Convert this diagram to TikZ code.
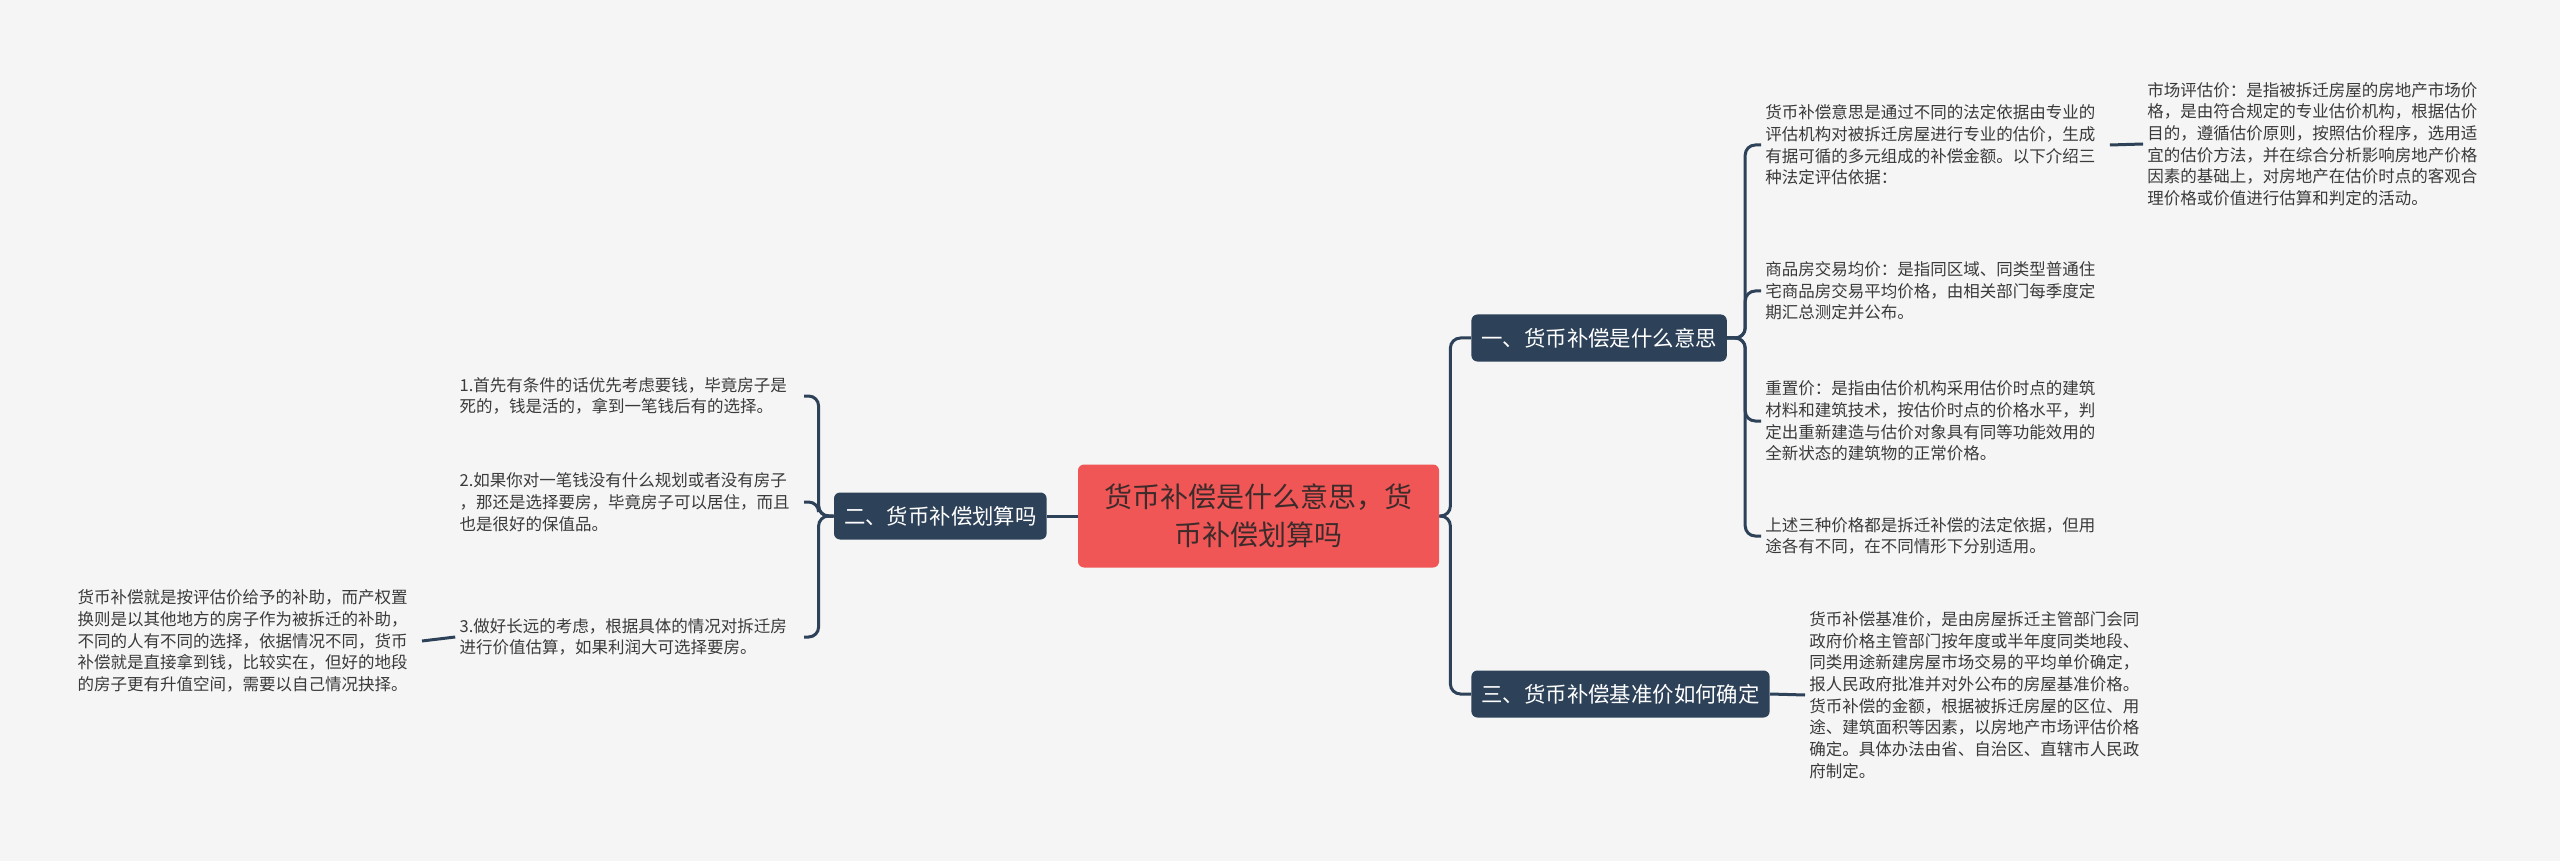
\documentclass[tikz,border=0pt]{standalone}
\usepackage{fontspec}
\setmainfont{Noto Sans CJK SC}

\definecolor{bg}{HTML}{F5F5F5}
\definecolor{navy}{HTML}{2D4159}
\definecolor{rootred}{HTML}{F05656}
\definecolor{roottext}{HTML}{3D2B2B}
\definecolor{txt}{HTML}{3A3A3A}

\begin{document}
\begin{tikzpicture}[
  x=0.5pt, y=-0.5pt,
  root/.style={fill=rootred,text=roottext,rounded corners=3pt,minimum width=180.5pt,minimum height=51.5pt,align=center,font=\fontsize{14}{19}\selectfont},
  topic/.style={fill=navy,text=white,rounded corners=3pt,minimum height=23.5pt,inner xsep=5pt,font=\fontsize{10.7}{13}\selectfont},
  detail/.style={text=txt,text width=170pt,align=left,inner sep=2pt,font=\fontsize{8.25}{10.85}\selectfont},
  link/.style={draw=navy,line width=1.5pt,rounded corners=5pt}
]
\fill[bg] (0,0) rectangle (2560,861);
\useasboundingbox (0,0) rectangle (2560,861);

\node[root] (root) at (1258.5,516) {货币补偿是什么意思，货\\币补偿划算吗};

\node[topic,anchor=west] (b1) at (1471,338) {一、货币补偿是什么意思};
\node[topic,anchor=west] (b3) at (1471,694) {三、货币补偿基准价如何确定};
\node[topic,anchor=east] (b2) at (1047,516) {二、货币补偿划算吗};

\node[detail,anchor=west] (c1) at (1761,145) {货币补偿意思是通过不同的法定依据由专业的\\评估机构对被拆迁房屋进行专业的估价，生成\\有据可循的多元组成的补偿金额。以下介绍三\\种法定评估依据：};
\node[detail,anchor=west] (c2) at (1761,291) {商品房交易均价：是指同区域、同类型普通住\\宅商品房交易平均价格，由相关部门每季度定\\期汇总测定并公布。};
\node[detail,anchor=west] (c3) at (1761,421) {重置价：是指由估价机构采用估价时点的建筑\\材料和建筑技术，按估价时点的价格水平，判\\定出重新建造与估价对象具有同等功能效用的\\全新状态的建筑物的正常价格。};
\node[detail,anchor=west] (c4) at (1761,536) {上述三种价格都是拆迁补偿的法定依据，但用\\途各有不同，在不同情形下分别适用。};
\node[detail,anchor=west] (m1) at (2143,144) {市场评估价：是指被拆迁房屋的房地产市场价\\格，是由符合规定的专业估价机构，根据估价\\目的，遵循估价原则，按照估价程序，选用适\\宜的估价方法，并在综合分析影响房地产价格\\因素的基础上，对房地产在估价时点的客观合\\理价格或价值进行估算和判定的活动。};

\node[detail,anchor=west] (d1) at (1805,695) {货币补偿基准价，是由房屋拆迁主管部门会同\\政府价格主管部门按年度或半年度同类地段、\\同类用途新建房屋市场交易的平均单价确定，\\报人民政府批准并对外公布的房屋基准价格。\\货币补偿的金额，根据被拆迁房屋的区位、用\\途、建筑面积等因素，以房地产市场评估价格\\确定。具体办法由省、自治区、直辖市人民政\\府制定。};

\node[detail,anchor=east] (e1) at (804,396) {1.首先有条件的话优先考虑要钱，毕竟房子是\\死的，钱是活的，拿到一笔钱后有的选择。};
\node[detail,anchor=east] (e2) at (804,502) {2.如果你对一笔钱没有什么规划或者没有房子\\，那还是选择要房，毕竟房子可以居住，而且\\也是很好的保值品。};
\node[detail,anchor=east] (e3) at (804,637) {3.做好长远的考虑，根据具体的情况对拆迁房\\进行价值估算，如果利润大可选择要房。};
\node[detail,anchor=east] (f1) at (422,641) {货币补偿就是按评估价给予的补助，而产权置\\换则是以其他地方的房子作为被拆迁的补助，\\不同的人有不同的选择，依据情况不同，货币\\补偿就是直接拿到钱，比较实在，但好的地段\\的房子更有升值空间，需要以自己情况抉择。};

\draw[link] (root.east) -- ++(11,0) |- (b1.west);
\draw[link] (root.east) -- ++(11,0) |- (b3.west);
\draw[link] (root.west) -- (b2.east);

\draw[link] (b1.east) -- ++(18,0) |- (c1.west);
\draw[link] (b1.east) -- ++(18,0) |- (c2.west);
\draw[link] (b1.east) -- ++(18,0) |- (c3.west);
\draw[link] (b1.east) -- ++(18,0) |- (c4.west);
\draw[link] (c1.east) -- (m1.west);

\draw[link] (b3.east) -- (d1.west);

\draw[link] (b2.west) -- ++(-15,0) |- (e1.east);
\draw[link] (b2.west) -- ++(-15,0) |- (e2.east);
\draw[link] (b2.west) -- ++(-15,0) |- (e3.east);
\draw[link] (e3.west) -- (f1.east);
\end{tikzpicture}
\end{document}
